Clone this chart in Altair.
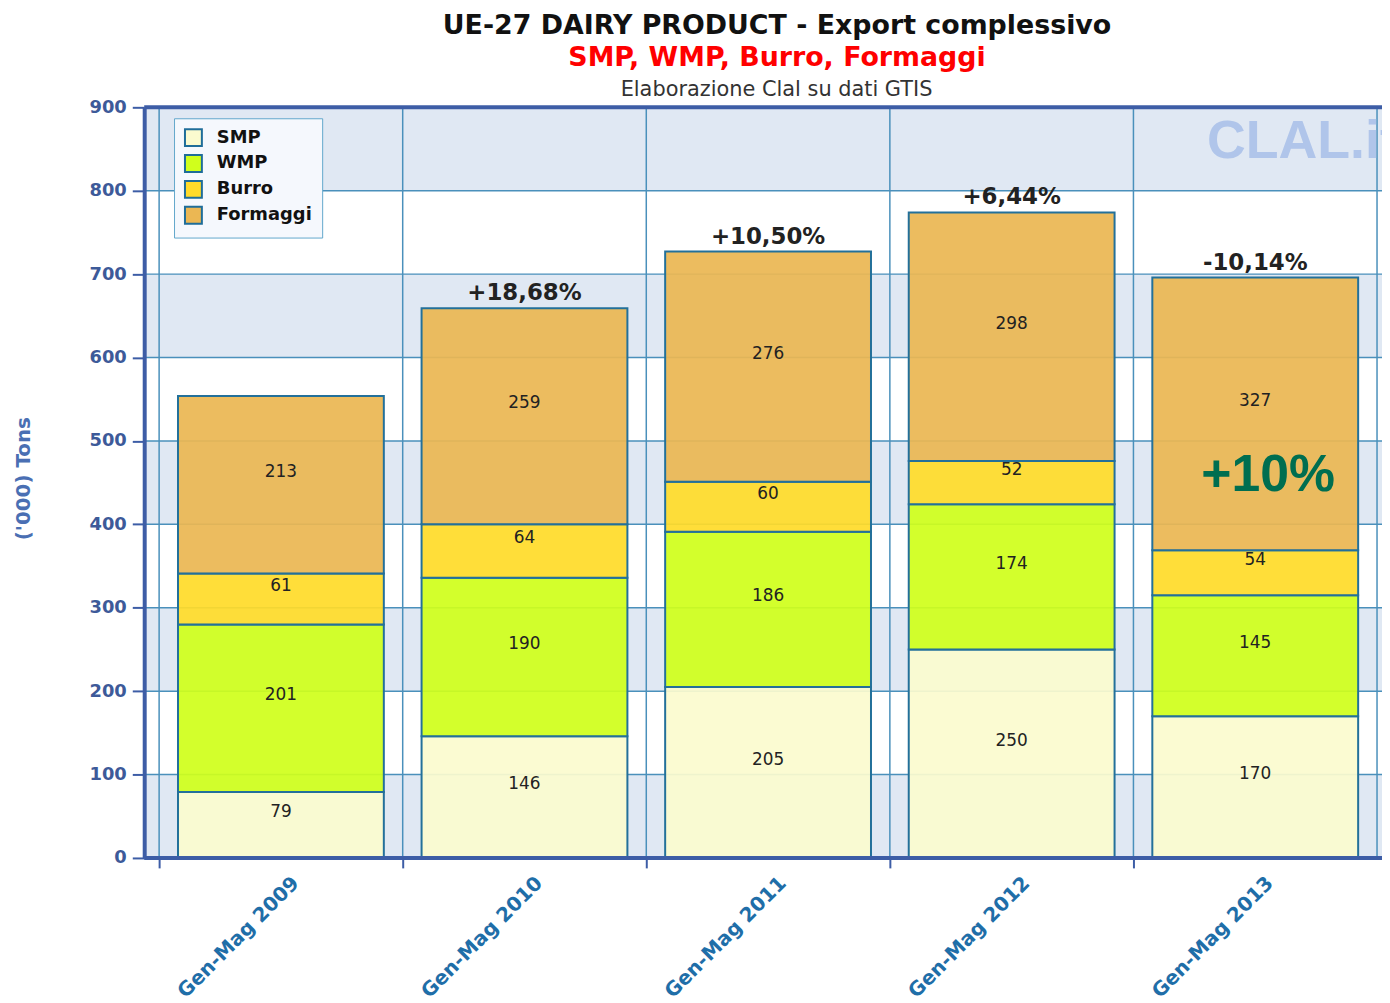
import altair as alt
import pandas as pd

# ---------------- data ----------------
cats = ["Gen-Mag 2009", "Gen-Mag 2010", "Gen-Mag 2011", "Gen-Mag 2012", "Gen-Mag 2013"]
products = ["SMP", "WMP", "Burro", "Formaggi"]
smp = [79, 146, 205, 250, 170]
wmp = [201, 190, 186, 174, 145]
burro = [61, 64, 60, 52, 54]
formaggi = [213, 259, 276, 298, 327]
pct_labels = ["", "+18,68%", "+10,50%", "+6,44%", "-10,14%"]
y_ticks = [0, 100, 200, 300, 400, 500, 600, 700, 800, 900]
annotation_text = ["+10%"]
annotation_value = [440]

title_line1 = "UE-27 DAIRY PRODUCT - Export complessivo"
title_line2 = "SMP, WMP, Burro, Formaggi"
title_line3 = "Elaborazione Clal su dati GTIS"
watermark = ["CLAL.it"]

colors = ["#fbfbcf", "#d0ff1c", "#ffdb2a", "#ebb753"]

# ---------------- tables ----------------
series = [smp, wmp, burro, formaggi]
rows = []
for i, c in enumerate(cats):
    for k, p in enumerate(products):
        rows.append({"cat": c, "prod": p, "k": k, "value": series[k][i]})
df = pd.DataFrame(rows)

tot = pd.DataFrame({
    "cat": cats,
    "label": pct_labels,
    "total": [sum(v) for v in zip(smp, wmp, burro, formaggi)],
})
bands = pd.DataFrame({"b0": y_ticks[0:-1:2], "b1": y_ticks[1::2]})
hgrid = pd.DataFrame({"y": y_ticks[1:-1]})
frame = pd.DataFrame({"y": [y_ticks[0], y_ticks[-1]]})
ann = pd.DataFrame({"cat": [cats[-1]], "y": annotation_value, "t": annotation_text})

FONT = "DejaVu Sans"
AXIS_BLUE = "#3d5da6"
GRID = "#4a90bb"

xs = alt.Scale(domain=cats, range=[15, 1240], paddingInner=0, paddingOuter=0)
ys = alt.Scale(domain=[0, 900], nice=False)

xaxis = alt.Axis(
    title=None, bandPosition=0, labelAngle=315, labelAlign="right",
    labelBaseline="middle", labelOffset=15, labelPadding=12,
    labelFont=FONT, labelFontSize=20, labelFontWeight="bold",
    labelColor="#1f6ea8", tickSize=10, tickWidth=2, tickColor=AXIS_BLUE,
    domain=False, grid=False, zindex=1, labelOverlap=False,
)
yaxis = alt.Axis(
    title="('000) Tons", values=y_ticks, labelFont=FONT, labelFontSize=18,
    labelFontWeight="bold", labelColor="#3d5a99", labelPadding=6,
    tickSize=12, tickWidth=2, tickColor=AXIS_BLUE, domainColor=AXIS_BLUE,
    domainWidth=4, grid=False, zindex=1, titleFont=FONT, titleFontSize=20,
    titleFontWeight="bold", titleColor="#4a6fb3", titleX=-121, titleY=373,
    titleAngle=270, titleBaseline="middle", titleAlign="center",
)

X = lambda **kw: alt.X("cat:N", scale=xs, axis=xaxis, **kw)

bands_l = alt.Chart(bands).mark_rect(color="#e0e8f3").encode(
    y=alt.Y("b0:Q", scale=ys, axis=yaxis), y2="b1:Q",
    x=alt.value(0), x2=alt.value("width"),
)
hgrid_l = alt.Chart(hgrid).mark_rule(color=GRID, strokeWidth=1.5).encode(
    y=alt.Y("y:Q", scale=ys, axis=yaxis)
)
vgrid_l = alt.Chart(tot).mark_rule(color=GRID, strokeWidth=1.5).encode(
    x=X(bandPosition=0)
)
vgrid_last = alt.Chart(tot).transform_filter(
    alt.datum.cat == cats[-1]
).mark_rule(color=GRID, strokeWidth=1.5).encode(x=X(bandPosition=1))

stacked = alt.Chart(df).transform_stack(
    stack="value", groupby=["cat"], sort=[alt.SortField("k", order="ascending")],
    as_=["v0", "v1"],
)
bars = stacked.mark_bar(
    width={"band": 0.845}, fillOpacity=0.93, stroke="#23709a", strokeWidth=2
).encode(
    x=X(),
    y=alt.Y("v0:Q", scale=ys, axis=yaxis),
    y2="v1:Q",
    color=alt.Color(
        "prod:N", title=None,
        scale=alt.Scale(domain=products, range=colors),
        legend=alt.Legend(
            orient="none", legendX=30, legendY=11, symbolType="square",
            symbolSize=289, symbolStrokeColor="#1f6d99", symbolStrokeWidth=2,
            symbolOpacity=1, labelFont=FONT, labelFontSize=18,
            labelFontWeight="bold", labelColor="#111", labelOffset=14,
            rowPadding=1, padding=10, fillColor="#f5f8fd",
            strokeColor="#63a7cc",
        ),
    ),
)
seg_labels = stacked.transform_calculate(
    mid="(datum.v0 + datum.v1) / 2"
).mark_text(font=FONT, fontSize=17, color="#222", dy=-13, baseline="middle").encode(
    x=X(), y=alt.Y("mid:Q", scale=ys, axis=yaxis), text="value:Q"
)
tot_labels = alt.Chart(tot).mark_text(
    font=FONT, fontSize=23, fontWeight="bold", color="#222",
    baseline="alphabetic", dy=-8,
).encode(x=X(), y=alt.Y("total:Q", scale=ys, axis=yaxis), text="label:N")

ann_l = alt.Chart(ann).mark_text(
    font="Liberation Sans", fontSize=52, fontWeight="bold", color="#006e50",
    baseline="alphabetic", dx=13,
).encode(x=X(), y=alt.Y("y:Q", scale=ys, axis=yaxis), text="t:N")

wm_l = alt.Chart(pd.DataFrame({"t": watermark})).mark_text(
    font="Liberation Sans", fontSize=54, fontWeight="bold", color="#b0c5ea",
    align="left", baseline="top",
).encode(x=alt.value(1069), y=alt.value(8), text="t:N")

sub3 = alt.Chart(pd.DataFrame({"t": [title_line3]})).mark_text(
    font=FONT, fontSize=21, color="#333", baseline="middle"
).encode(x=alt.value(636), y=alt.value(-17), text="t:N")

frame_l = alt.Chart(frame).mark_rule(color=AXIS_BLUE, strokeWidth=4).encode(
    y=alt.Y("y:Q", scale=ys, axis=yaxis)
)

chart = alt.layer(
    bands_l, hgrid_l, vgrid_l, vgrid_last, wm_l, bars, seg_labels, tot_labels,
    ann_l, sub3, frame_l,
).properties(
    width=1245, height=755,
    autosize=alt.AutoSizeParams(type="none"),
    padding={"left": 137, "top": 97, "right": 0, "bottom": 143},
    title=alt.TitleParams(
        text=title_line1, subtitle=title_line2, font=FONT, fontSize=27,
        fontWeight="bold", color="#111", subtitleFont=FONT, subtitleFontSize=27,
        subtitleFontWeight="bold", subtitleColor="#ff0000", anchor="middle",
        dx=14, offset=8, subtitlePadding=5, frame="group",
    ),
).configure_view(stroke="transparent", fill="#f4f7fc").configure(background="white")

chart.save("out.html", embed_options={"renderer": "svg", "actions": False})
